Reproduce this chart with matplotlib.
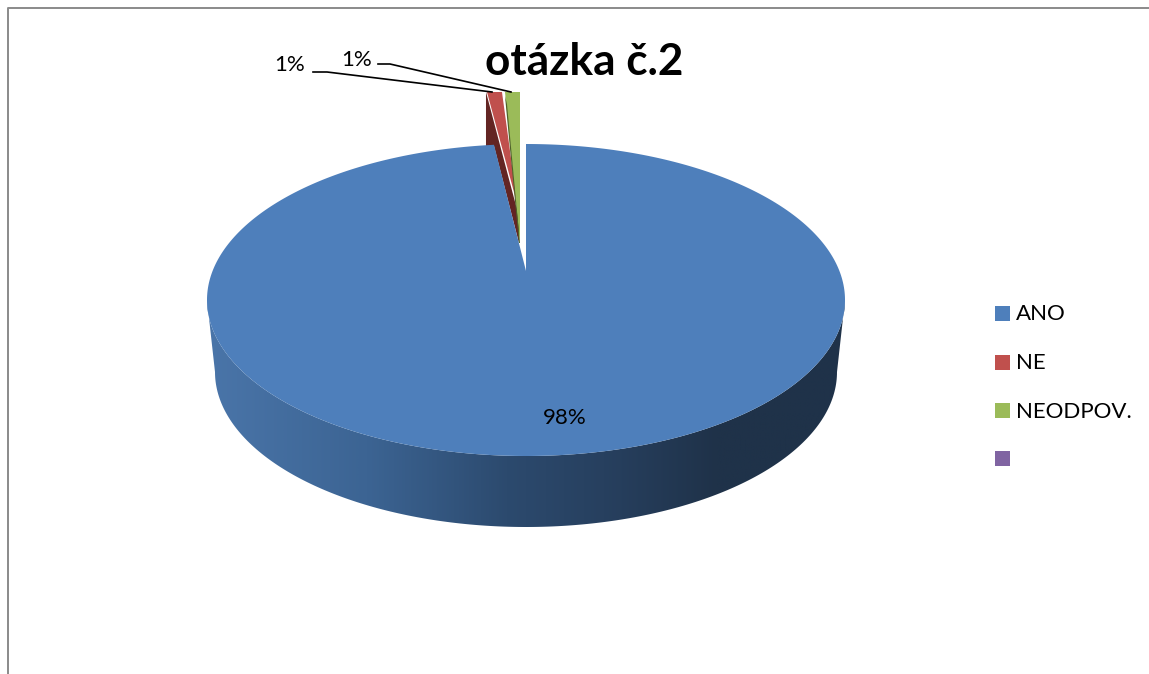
import numpy as np
import matplotlib
matplotlib.use("Agg")
import matplotlib.pyplot as plt
from matplotlib.colors import LinearSegmentedColormap
from matplotlib.patches import Polygon, Rectangle

categories = ["ANO", "NE", "NEODPOV.", ""]
shares = [98.4, 0.8, 0.8, 0]
face_colors = ["#4E7FBB", "#C0504D", "#9BBB59", "#8064A2"]
side_colors = ["#4F81BD", "#632523", "#4F6228", "#8064A2"]

plt.rcParams["font.family"] = ["Lato", "DejaVu Sans"]

W, H = 1149, 674
fig = plt.figure(figsize=(W / 100, H / 100), dpi=100)
ax = fig.add_axes([0, 0, 1, 1])

# chart frame, only top and left show in the crop
ax.plot([W, 8, 8], [8, 8, H], color="#8A8A8A", lw=1.4)

# pie geometry in pixels, the top face is seen in perspective
cx, cy, rx, ry = 526, 300, 319, 156
cx_b, cy_b, rx_b, ry_b = 526, 372, 311, 155
apex_y = 271


def rim(deg):
    a = np.radians(deg)
    return cx + rx * np.sin(a), cy - ry * np.cos(a)


def rim_bottom(deg):
    a = np.radians(deg)
    return cx_b + rx_b * np.sin(a), cy_b - ry_b * np.cos(a)


# clockwise from 12 o'clock
ends = np.cumsum(shares) / sum(shares) * 360
blue_end = ends[0]

# side wall, shaded left to right with a clipped gradient
wall_cmap = LinearSegmentedColormap.from_list(
    "wall",
    [(0.0, "#4A75A9"), (0.25, "#3C6493"), (0.47, "#2C4A6E"), (0.65, "#263E5C"), (0.8, "#1F3249"), (1.0, "#1F3249")],
)
side_angles = np.linspace(90, 270, 200)
wall_pts = [rim(a) for a in side_angles] + [rim_bottom(a) for a in side_angles[::-1]]
wall = Polygon(wall_pts, closed=True, fc="none", ec="none")
ax.add_patch(wall)
grad = np.linspace(0, 1, 512).reshape(1, -1)
im = ax.imshow(grad, cmap=wall_cmap, extent=[207, 846, 540, 290], aspect="auto")
im.set_clip_path(wall)

# the two small exploded slices
tip_y = 243
xa = rim(ends[0])[0] - 8
xb = rim(ends[1])[0] - 8
ax.add_patch(Polygon([(xa, 92), (xa, 146), (xa + 8, 146), (519, tip_y), (519, 217)],
                     closed=True, fc=side_colors[1], ec="none"))
ax.add_patch(Polygon([(xa + 1, 92), (xb, 92), (519, 217), (518, 207)], closed=True, fc=face_colors[1], ec="none"))
xa = rim(ends[1])[0] - 6
xb = rim(ends[2])[0] - 6
ax.add_patch(Polygon([(xa + 1, 92), (xb, 92), (xb, tip_y)], closed=True, fc=face_colors[2], ec="none"))
ax.add_patch(Polygon([(xa + 1, 96), (xa + 3, 104), (xb, tip_y), (xb - 1, tip_y)], closed=True, fc=side_colors[2], ec="none"))

# large slice top face
arc = np.linspace(0, blue_end, 400)
pts = [(cx, apex_y)] + [rim(a) for a in arc]
ax.add_patch(Polygon(pts, closed=True, fc=face_colors[0], ec="none"))

# leader lines and data labels
ax.plot([313, 327, 492], [72, 72, 92], color="black", lw=1.2)
ax.plot([378, 390, 511], [64, 64, 92], color="black", lw=1.2)
ax.text(290, 65, f"{shares[1]:.0f}%", fontsize=16, ha="center", va="center")
ax.text(357, 60, f"{shares[2]:.0f}%", fontsize=16, ha="center", va="center")
ax.text(565, 418, f"{shares[0]:.0f}%", fontsize=16, ha="center", va="center")

ax.text(584, 62, "otázka č.2", fontsize=31.8, fontweight="bold", ha="center", va="center")

# legend
legend_y = [313.5, 362, 410.5, 458.5]
for name, col, y in zip(categories, face_colors, legend_y):
    ax.add_patch(Rectangle((995, y - 7.5), 15, 15, fc=col, ec="none"))
    ax.text(1016, y + 1, name, fontsize=16, ha="left", va="center")

ax.set_xlim(0, W)
ax.set_ylim(H, 0)
ax.axis("off")

fig.savefig("out.png", dpi=100)
